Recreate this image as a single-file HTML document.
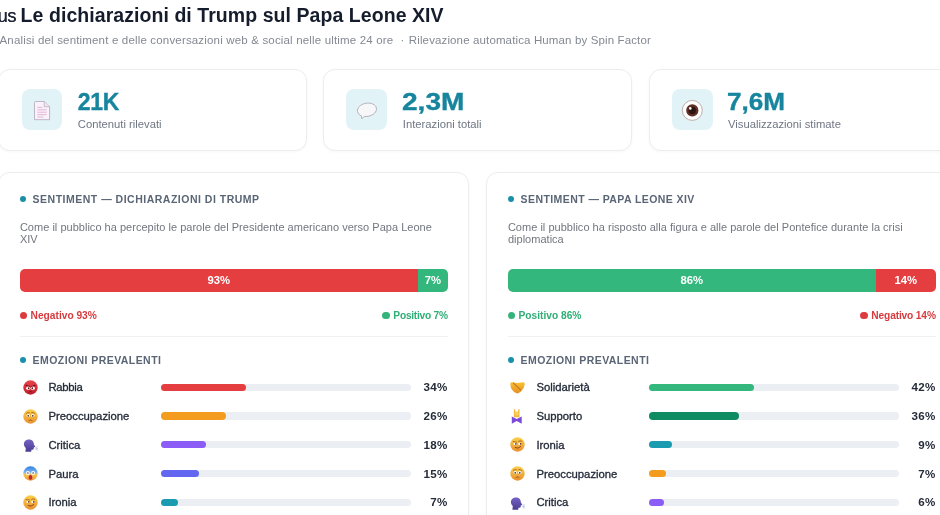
<!DOCTYPE html>
<html lang="it">
<head>
<meta charset="utf-8">
<title>Le dichiarazioni di Trump sul Papa Leone XIV</title>
<style>
*{box-sizing:border-box;margin:0;padding:0}
html,body{width:940px;height:515px;overflow:hidden;background:#fff}
body{font-family:"Liberation Sans",Arial,sans-serif;color:#1a2233;position:relative}
.abs{position:absolute;white-space:nowrap}
.us{left:-2.6px;top:3.7px;font-size:18.2px;line-height:24px;color:#1d2433;letter-spacing:-0.3px;text-shadow:0.3px 0 0 #1d2433}
h1{position:absolute;left:20.6px;top:3.4px;font-size:19.5px;line-height:24px;font-weight:700;color:#151c2c;white-space:nowrap;letter-spacing:0.06px}
.sub{top:33px;font-size:11.5px;line-height:14px;color:#838892}
.stat{position:absolute;top:68.5px;height:82.2px;background:#fff;border:1px solid #ededef;border-radius:12px;box-shadow:0 1px 3px rgba(0,0,0,.035)}
.ic{position:absolute;top:89px;width:40.8px;height:40.6px;border-radius:8px;background:#e2f3f8}
.num{position:absolute;top:87.1px;-webkit-text-stroke:0.35px #17859d;font-size:23px;line-height:30px;font-weight:700;color:#17859d;white-space:nowrap;transform-origin:0 50%}
.lab{position:absolute;top:116.8px;font-size:11.25px;line-height:14px;color:#6f7683;white-space:nowrap}
.card{position:absolute;top:172.2px;height:400px;width:471px;background:#fff;border:1px solid #ededef;border-radius:12px;box-shadow:0 1px 3px rgba(0,0,0,.035)}
.grp{position:absolute;left:0;top:0;width:0;height:0}
.hd{position:absolute;left:32.6px;font-size:10.5px;line-height:13px;font-weight:700;letter-spacing:0.5px;color:#5a6575;white-space:nowrap}
.dot{position:absolute;left:19.8px;width:6px;height:6px;border-radius:50%;background:#1a8fa8}
.desc{position:absolute;left:19.9px;top:220.5px;width:430px;font-size:11px;line-height:12.8px;color:#72767f;letter-spacing:0.02px}
.bar{position:absolute;left:19.8px;top:269.4px;width:428px;height:22.2px;border-radius:5px;overflow:hidden;display:flex;font-size:11.3px;font-weight:700;color:#fff;line-height:22.6px;text-align:center}
.neg{background:#e53e41}.pos{background:#33b77d}
.lg{position:absolute;top:308.6px;font-size:10.2px;line-height:13px;font-weight:700;white-space:nowrap}
.lg i{display:inline-block;width:7.6px;height:7.6px;border-radius:50%;margin-right:3.4px;vertical-align:-0.5px}
.lg.n{color:#d63b3f}.lg.n i{background:#dc3c40}
.lg.p{color:#2fae76}.lg.p i{background:#35b37b}
.hr{position:absolute;left:19.8px;top:336.2px;width:428px;height:1px;background:#f0f0f2}
.row{position:absolute;left:19.8px;width:428px;height:14px}
.row .em{position:absolute;left:2.8px;top:-0.5px;width:15px;height:15px}
.r .em{margin-left:-0.6px}
.row .nm{position:absolute;left:28.6px;top:0;font-size:11.3px;line-height:14px;color:#252c3a;white-space:nowrap;-webkit-text-stroke:0.32px #252c3a}
.row .tr{position:absolute;left:141.2px;top:3.4px;width:250.2px;height:7.2px;border-radius:4px;background:#ebeef3}
.row .tr b{display:block;height:7.2px;border-radius:4px}
.row .pc{position:absolute;right:0.3px;top:0;font-size:11.6px;line-height:14px;font-weight:700;color:#252c3a;letter-spacing:0.3px}
</style>
</head>
<body>
<svg width="0" height="0" style="position:absolute">
<defs>
<linearGradient id="gY" x1="0" y1="0" x2="0" y2="1"><stop offset="0" stop-color="#fbd04a"/><stop offset="1" stop-color="#ea8f2e"/></linearGradient>
<linearGradient id="gR" x1="0" y1="0" x2="0" y2="1"><stop offset="0" stop-color="#ea454c"/><stop offset="1" stop-color="#bf1f2c"/></linearGradient>
<linearGradient id="gF" x1="0" y1="0" x2="0" y2="1"><stop offset="0" stop-color="#2f7fe0"/><stop offset=".42" stop-color="#7fb4f0"/><stop offset=".58" stop-color="#f8c552"/><stop offset="1" stop-color="#ec8f30"/></linearGradient>
<linearGradient id="gP" x1="0" y1="0" x2="0" y2="1"><stop offset="0" stop-color="#7563c4"/><stop offset="1" stop-color="#4a3c92"/></linearGradient>
<linearGradient id="gH" x1="0" y1="0" x2="0" y2="1"><stop offset="0" stop-color="#fac233"/><stop offset="1" stop-color="#e48d26"/></linearGradient>
</defs></svg>
<div class="abs us">us</div>
<h1>Le dichiarazioni di Trump sul Papa Leone XIV</h1>
<div class="abs sub" style="left:-0.5px;letter-spacing:0.17px">Analisi del sentiment e delle conversazioni web &amp; social nelle ultime 24 ore</div>
<div class="abs sub" style="left:400.5px">·</div>
<div class="abs sub" style="left:408.8px;letter-spacing:0.13px">Rilevazione automatica Human by Spin Factor</div>

<div class="stat" style="left:-2px;width:308.6px"></div>
<div class="stat" style="left:323.4px;width:308.7px"></div>
<div class="stat" style="left:649.2px;width:308.7px"></div>

<div class="ic" style="left:21.7px"></div><svg class="abs" style="left:33px;top:100px" width="19" height="21" viewBox="0 0 19 21"><path d="M2.600 1.500h8.600l5.400 5.200v13H1.500V2.600q0-1.100 1.100-1.100z" fill="#faf2f9" stroke="#b9aec1" stroke-width=".9"/><path d="M11.200 1.500v5.200h5.400" fill="#f1e6f0" stroke="#b9aec1" stroke-width=".8"/><path d="M4.400 7.400h5M4.400 9.800h9.300M4.400 12.200h9.300M4.400 14.600h9.300M4.400 17h6" stroke="#e0aed4" stroke-width=".9"/></svg>
<div class="num" style="left:77.8px;letter-spacing:-0.3px;transform:scaleX(1.0)">21K</div>
<div class="lab" style="left:77.8px">Contenuti rilevati</div>

<div class="ic" style="left:346.3px"></div><svg class="abs" style="left:355px;top:100px" width="24" height="21" viewBox="0 0 24 21"><g transform="rotate(-10 12 10)"><path d="M12 3.2c5.4 0 9.6 2.9 9.6 6.6s-4.2 6.6-9.6 6.6c-1.4 0-2.7-.2-3.9-.5L5.4 17.8l.2-2.9C3.700 13.700 2.400 11.900 2.400 9.800c0-3.700 4.200-6.600 9.600-6.600z" fill="#f7f7f9" stroke="#b0b0b4" stroke-width=".9"/></g></svg>
<div class="num" style="left:402.2px;transform:scaleX(1.22)">2,3M</div>
<div class="lab" style="left:402.8px">Interazioni totali</div>

<div class="ic" style="left:672.2px"></div><svg class="abs" style="left:681px;top:99px" width="23" height="23" viewBox="0 0 23 23"><circle cx="11.3" cy="11.4" r="10" fill="#fdfdfd" stroke="#b49a92" stroke-width=".8"/><circle cx="11.3" cy="11.4" r="6.1" fill="#5e2f24"/><circle cx="11.3" cy="11.4" r="3.6" fill="#2c1411"/><circle cx="9.300" cy="9.400" r="1.300" fill="#fff"/></svg>
<div class="num" style="left:727.4px;transform:scaleX(1.135)">7,6M</div>
<div class="lab" style="left:728px">Visualizzazioni stimate</div>

<div class="card" style="left:-1.8px"></div>
<div class="card" style="left:486.2px"></div>

<div class="grp">
  <div class="dot" style="top:196px"></div>
  <div class="hd" style="top:193px">SENTIMENT — DICHIARAZIONI DI TRUMP</div>
  <div class="desc">Come il pubblico ha percepito le parole del Presidente americano verso Papa Leone XIV</div>
  <div class="bar"><div class="neg" style="width:93%">93%</div><div class="pos" style="width:7%">7%</div></div>
  <div class="lg n" style="left:19.6px"><i></i>Negativo 93%</div>
  <div class="lg p" style="right:-447.8px;letter-spacing:-0.25px"><i></i>Positivo 7%</div>
  <div class="hr"></div>
  <div class="dot" style="top:356.8px"></div>
  <div class="hd" style="top:353.6px;letter-spacing:0.43px">EMOZIONI PREVALENTI</div>
  <div class="row" style="top:380.3px"><svg class="em" viewBox="0 0 15 15"><circle cx="7.5" cy="7.5" r="7.2" fill="url(#gR)"/><path d="M3 5.2L6.7 6.8M12 5.2L8.3 6.8" stroke="#6e121c" stroke-width="1.1" stroke-linecap="round"/><ellipse cx="5.2" cy="8.2" rx="2.1" ry="1.65" fill="#fff"/><ellipse cx="9.8" cy="8.2" rx="2.1" ry="1.65" fill="#fff"/><circle cx="5.7" cy="8.2" r=".85" fill="#5a1515"/><circle cx="9.300" cy="8.200" r=".85" fill="#5a1515"/><path d="M6 12Q7.5 10.7 9 12" stroke="#6e121c" stroke-width=".9" fill="none" stroke-linecap="round"/></svg><div class="nm" style="letter-spacing:-0.3px">Rabbia</div><div class="tr"><b style="width:34%;background:#e53e41"></b></div><div class="pc">34%</div></div>
  <div class="row" style="top:409px"><svg class="em" viewBox="0 0 15 15"><circle cx="7.5" cy="7.5" r="7.2" fill="url(#gY)"/><path d="M3.3 4.4Q4.6 3 6.3 3.6M11.7 4.4Q10.4 3 8.7 3.6" stroke="#9a5a1c" stroke-width=".8" fill="none" stroke-linecap="round"/><circle cx="5.2" cy="6.6" r="1.7" fill="#fff"/><circle cx="9.8" cy="6.6" r="1.7" fill="#fff"/><circle cx="5.2" cy="6.8" r=".85" fill="#4a2a14"/><circle cx="9.8" cy="6.8" r=".85" fill="#4a2a14"/><path d="M5 12Q7.5 8.8 10 12Q7.5 10.6 5 12Z" fill="#7a3a1a"/></svg><div class="nm">Preoccupazione</div><div class="tr"><b style="width:26%;background:#f39c1f"></b></div><div class="pc">26%</div></div>
  <div class="row" style="top:437.8px"><svg class="em" viewBox="0 0 15 15"><path d="M6.2 1.1C3 1.1.9 3.4.9 6.3c0 2 .9 3.3 1.9 4.3l-.4 4.1h5.8l.2-2.1c1.2.2 2.2-.2 2.3-1.2l.1-1.2 1.1-.6c.4-.2.4-.6.2-.9l-1.2-1.8C11 3.6 9.2 1.1 6.2 1.1z" fill="url(#gP)" transform="translate(0,1.4) scale(1,.9)"/><path d="M12.9 10.4l1.5-.5M13 11.4l1.7.2M12.8 12.3l1.4.8" stroke="#9db3da" stroke-width=".7" stroke-linecap="round"/></svg><div class="nm">Critica</div><div class="tr"><b style="width:18%;background:#8b5cf6"></b></div><div class="pc">18%</div></div>
  <div class="row" style="top:466.5px"><svg class="em" viewBox="0 0 15 15"><circle cx="7.5" cy="7.5" r="7.2" fill="url(#gF)"/><circle cx="4.9" cy="7" r="1.9" fill="#fff"/><circle cx="10.1" cy="7" r="1.9" fill="#fff"/><circle cx="4.9" cy="7" r=".7" fill="#3a2418"/><circle cx="10.1" cy="7" r=".7" fill="#3a2418"/><ellipse cx="7.5" cy="11.4" rx="1.8" ry="2.4" fill="#c2263a"/></svg><div class="nm">Paura</div><div class="tr"><b style="width:15%;background:#6366f1"></b></div><div class="pc">15%</div></div>
  <div class="row" style="top:495.2px"><svg class="em" viewBox="0 0 15 15"><circle cx="7.5" cy="7.5" r="7.2" fill="url(#gY)"/><path d="M3.2 4.6L6.4 5M8.5 4.3Q10 3.2 11.8 4.2" stroke="#9a5a1c" stroke-width=".8" fill="none" stroke-linecap="round"/><ellipse cx="5" cy="6.9" rx="1.6" ry="1.2" fill="#fff"/><ellipse cx="9.9" cy="6.9" rx="1.6" ry="1.2" fill="#fff"/><circle cx="5.8" cy="6.9" r=".8" fill="#4a2a14"/><circle cx="10.7" cy="6.9" r=".8" fill="#4a2a14"/><path d="M5.2 10.6Q8 12.4 10.8 9.6" stroke="#8a4a1e" stroke-width="1" fill="none" stroke-linecap="round"/></svg><div class="nm">Ironia</div><div class="tr"><b style="width:7%;background:#1a9bb0"></b></div><div class="pc">7%</div></div>
</div>

<div class="grp r" style="left:488px">
  <div class="dot" style="top:196px"></div>
  <div class="hd" style="top:193px;letter-spacing:0.42px">SENTIMENT — PAPA LEONE XIV</div>
  <div class="desc">Come il pubblico ha risposto alla figura e alle parole del Pontefice durante la crisi diplomatica</div>
  <div class="bar"><div class="pos" style="width:86%">86%</div><div class="neg" style="width:14%">14%</div></div>
  <div class="lg p" style="left:19.6px"><i></i>Positivo 86%</div>
  <div class="lg n" style="right:-447.8px;letter-spacing:-0.15px"><i></i>Negativo 14%</div>
  <div class="hr"></div>
  <div class="dot" style="top:356.8px"></div>
  <div class="hd" style="top:353.6px;letter-spacing:0.43px">EMOZIONI PREVALENTI</div>
  <div class="row" style="top:380.3px"><svg class="em" viewBox="0 0 15 15"><path d="M.3 3.8Q.2 2 2 2.2L7.4 3.1 12.9 2.2Q15 2 14.8 4.2 14.3 8.6 11 11.6 8.8 13.6 7.2 13.4 3.8 12.6 1.6 9.2.3 6.6.3 3.8z" fill="url(#gH)"/><path d="M3.4 3.2L10.6 9.8" stroke="#c47518" stroke-width="1.1" stroke-linecap="round"/></svg><div class="nm">Solidarietà</div><div class="tr"><b style="width:42%;background:#33b77d"></b></div><div class="pc">42%</div></div>
  <div class="row" style="top:409px"><svg class="em" viewBox="0 0 15 15"><path d="M3.9.3h1.3v2.4h3V.3h1.300v7.900H3.900z" fill="#f4b63a"/><circle cx="6.700" cy="4.700" r="2" fill="#f9cf5a"/><path d="M1.800 7.400L6.700 10 11.700 7.400V14.800L6.700 12 1.800 14.800z" fill="#7a4bd9"/></svg><div class="nm">Supporto</div><div class="tr"><b style="width:36%;background:#0f8c62"></b></div><div class="pc">36%</div></div>
  <div class="row" style="top:437.8px"><svg class="em" viewBox="0 0 15 15"><circle cx="7.5" cy="7.5" r="7.2" fill="url(#gY)"/><path d="M3.2 4.6L6.4 5M8.5 4.3Q10 3.2 11.8 4.2" stroke="#9a5a1c" stroke-width=".8" fill="none" stroke-linecap="round"/><ellipse cx="5" cy="6.9" rx="1.6" ry="1.2" fill="#fff"/><ellipse cx="9.9" cy="6.9" rx="1.6" ry="1.2" fill="#fff"/><circle cx="5.8" cy="6.9" r=".8" fill="#4a2a14"/><circle cx="10.7" cy="6.9" r=".8" fill="#4a2a14"/><path d="M5.2 10.6Q8 12.4 10.8 9.6" stroke="#8a4a1e" stroke-width="1" fill="none" stroke-linecap="round"/></svg><div class="nm">Ironia</div><div class="tr"><b style="width:9%;background:#1a9bb0"></b></div><div class="pc">9%</div></div>
  <div class="row" style="top:466.5px"><svg class="em" viewBox="0 0 15 15"><circle cx="7.5" cy="7.5" r="7.2" fill="url(#gY)"/><path d="M3.3 4.4Q4.6 3 6.3 3.6M11.7 4.4Q10.4 3 8.7 3.6" stroke="#9a5a1c" stroke-width=".8" fill="none" stroke-linecap="round"/><circle cx="5.2" cy="6.6" r="1.7" fill="#fff"/><circle cx="9.8" cy="6.6" r="1.7" fill="#fff"/><circle cx="5.2" cy="6.8" r=".85" fill="#4a2a14"/><circle cx="9.8" cy="6.8" r=".85" fill="#4a2a14"/><path d="M5 12Q7.5 8.8 10 12Q7.5 10.6 5 12Z" fill="#7a3a1a"/></svg><div class="nm">Preoccupazione</div><div class="tr"><b style="width:7%;background:#f39c1f"></b></div><div class="pc">7%</div></div>
  <div class="row" style="top:495.2px"><svg class="em" viewBox="0 0 15 15"><path d="M6.2 1.1C3 1.1.9 3.4.9 6.3c0 2 .9 3.3 1.9 4.3l-.4 4.1h5.8l.2-2.1c1.2.2 2.2-.2 2.3-1.2l.1-1.2 1.1-.6c.4-.2.4-.6.2-.9l-1.2-1.8C11 3.6 9.2 1.1 6.2 1.1z" fill="url(#gP)" transform="translate(0,1.4) scale(1,.9)"/><path d="M12.9 10.4l1.5-.5M13 11.4l1.7.2M12.8 12.3l1.4.8" stroke="#9db3da" stroke-width=".7" stroke-linecap="round"/></svg><div class="nm">Critica</div><div class="tr"><b style="width:6%;background:#8b5cf6"></b></div><div class="pc">6%</div></div>
</div>
</body>
</html>
